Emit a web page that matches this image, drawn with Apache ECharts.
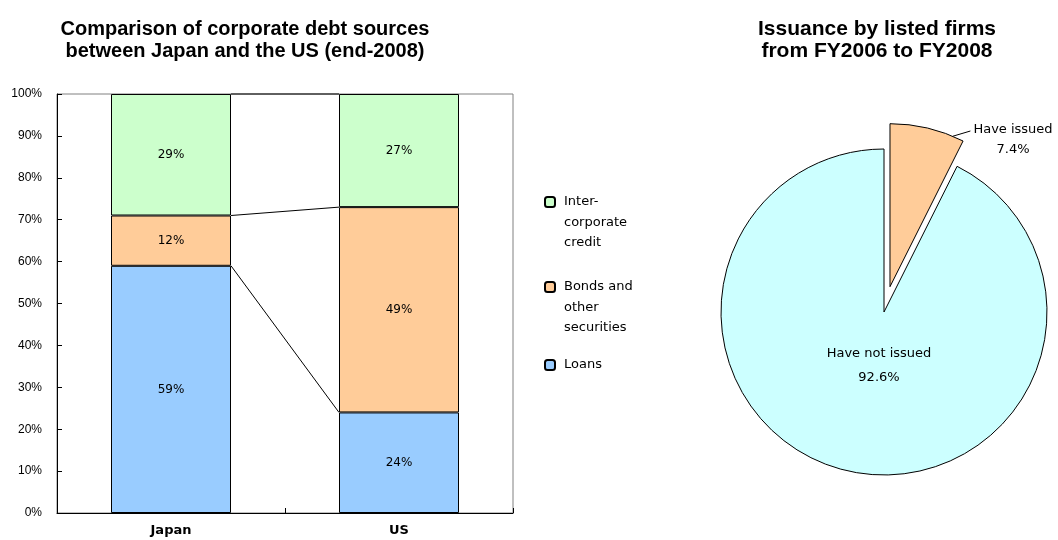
<!DOCTYPE html>
<html>
<head>
<meta charset="utf-8">
<script src="https://cdn.jsdelivr.net/npm/echarts@6/dist/echarts.min.js"></script>
<style>
  html, body { margin: 0; padding: 0; background: #fff; }
  #chart { width: 1058px; height: 540px; }
</style>
</head>
<body>
<div id="chart"></div>
<script>
// Corporate debt sources, share of total (%)
const categories = ['Japan', 'US'];
const loans = [59, 24];
const bonds = [12, 49];
const interCorporate = [29, 27];

const seriesNames = ['Loans', 'Bonds and other securities', 'Inter-corporate credit'];
const legendLines = {
  'Inter-corporate credit': ['Inter-', 'corporate', 'credit'],
  'Bonds and other securities': ['Bonds and', 'other', 'securities'],
  'Loans': ['Loans']
};

// Bond issuance by listed firms (% of firms)
const pieNames = ['Have issued', 'Have not issued'];
const pieValues = [7.4, 92.6];

const BAR_W = 120;
const LEGEND_LH = 20.5;
const colors = { loans: '#99CCFF', bonds: '#FFCC99', inter: '#CCFFCC' };
const LABEL_FONT = 'DejaVu Sans';

// Pie geometry
const PIE_C = [884, 312];
const PIE_R = 163;
const EXPLODE = 26;
// Where the two pie labels are centred
const pieLabelCentres = [[1013, 140], [879, 366]];

// Cumulative tops of each stack level, used for the connecting series lines
const stacks = [loans, bonds, interCorporate];
const levelTops = [];
let run = categories.map(() => 0);
stacks.forEach(arr => {
  run = run.map((v, i) => v + arr[i]);
  levelTops.push([0, run[0], run[1]]);
});

// Exploded slice: angular span (clockwise from 12 o'clock) and its shift
const pieTotal = pieValues.reduce((s, v) => s + v, 0);
const sliceSpan = 2 * Math.PI * pieValues[0] / pieTotal;
const explodeShift = [EXPLODE * Math.sin(sliceSpan / 2), -EXPLODE * Math.cos(sliceSpan / 2)];

function barSeries(name, data, color) {
  return {
    name: name,
    type: 'bar',
    stack: 'debt',
    barWidth: BAR_W,
    data: data,
    itemStyle: { color: color, borderColor: '#000', borderWidth: 1 },
    label: {
      show: true,
      position: 'inside',
      formatter: '{c}%',
      color: '#000',
      fontFamily: LABEL_FONT,
      fontSize: 12
    },
    emphasis: { disabled: true }
  };
}

function legendFor(name, iconCenterY) {
  const lines = legendLines[name];
  const blockH = (2 * lines.length - 1) * LEGEND_LH;
  return {
    data: [name],
    orient: 'vertical',
    left: 544,
    top: iconCenterY - blockH / 2,
    padding: 0,
    itemWidth: 10,
    itemHeight: 10,
    selectedMode: false,
    formatter: n => {
      const l = legendLines[n];
      return new Array(l.length - 1).fill('').concat(l).join('\n');
    },
    textStyle: {
      color: '#000',
      fontFamily: LABEL_FONT,
      fontSize: 13,
      lineHeight: LEGEND_LH,
      padding: [0, 0, 0, 4]
    }
  };
}

const titleStyle = size => ({
  fontFamily: 'Liberation Sans', fontWeight: 'bold', fontSize: size, lineHeight: 22, color: '#000'
});

const chart = echarts.init(document.getElementById('chart'), null, { renderer: 'canvas' });

chart.setOption({
  animation: false,
  backgroundColor: '#fff',
  title: [
    {
      text: 'Comparison of corporate debt sources\nbetween Japan and the US (end-2008)',
      left: 245,
      top: 18,
      padding: 0,
      textAlign: 'center',
      textStyle: titleStyle(20)
    },
    {
      text: 'Issuance by listed firms\nfrom FY2006 to FY2008',
      left: 877,
      top: 18,
      padding: 0,
      textAlign: 'center',
      textStyle: titleStyle(21)
    }
  ],
  legend: [
    legendFor('Inter-corporate credit', 202),
    legendFor('Bonds and other securities', 287),
    legendFor('Loans', 365)
  ],
  grid: {
    left: 57,
    right: 545,
    top: 94,
    bottom: 27,
    show: true,
    borderColor: '#808080',
    borderWidth: 1,
    backgroundColor: 'transparent'
  },
  xAxis: {
    type: 'category',
    data: categories,
    axisLine: { lineStyle: { color: '#000', width: 1 } },
    axisTick: { show: true, inside: true, length: 5, interval: 0, lineStyle: { color: '#000' } },
    axisLabel: {
      color: '#000',
      fontFamily: LABEL_FONT,
      fontWeight: 'bold',
      fontSize: 13,
      margin: 11
    },
    splitLine: { show: false }
  },
  yAxis: {
    type: 'value',
    min: 0,
    max: 100,
    interval: 10,
    axisLine: { show: true, lineStyle: { color: '#000', width: 1 } },
    axisTick: { show: true, inside: true, length: 5, lineStyle: { color: '#000' } },
    axisLabel: {
      formatter: '{value}%',
      color: '#000',
      fontFamily: 'Liberation Sans',
      fontSize: 12,
      margin: 15
    },
    splitLine: { show: false }
  },
  series: [
    barSeries(seriesNames[0], loans, colors.loans),
    barSeries(seriesNames[1], bonds, colors.bonds),
    barSeries(seriesNames[2], interCorporate, colors.inter),
    {
      // series lines joining the top of each stack level between the two bars
      type: 'custom',
      name: 'series lines',
      data: levelTops,
      z: 5,
      silent: true,
      renderItem: function (params, api) {
        const a = api.coord([0, api.value(1)]);
        const b = api.coord([1, api.value(2)]);
        return {
          type: 'line',
          shape: { x1: a[0] + BAR_W / 2, y1: a[1], x2: b[0] - BAR_W / 2, y2: b[1] },
          style: { stroke: '#000', lineWidth: 1 }
        };
      }
    },
    {
      type: 'pie',
      center: PIE_C,
      radius: PIE_R,
      startAngle: 90,
      clockwise: true,
      selectedMode: 'single',
      selectedOffset: EXPLODE,
      avoidLabelOverlap: false,
      itemStyle: { borderColor: '#000', borderWidth: 1 },
      emphasis: { disabled: true },
      label: {
        color: '#000',
        fontFamily: LABEL_FONT,
        fontSize: 13,
        lineHeight: 20,
        align: 'center',
        formatter: p => p.name + '\n' + p.value + '%'
      },
      labelLine: { show: true, length: 10, length2: 8, lineStyle: { color: '#000', width: 1 } },
      labelLayout: function (params) {
        const r = params.labelRect;
        const c = pieLabelCentres[params.dataIndex];
        if (params.dataIndex === 0) {
          // the label rides along with the exploded slice, so take that shift back out;
          // its anchor is the left edge, which becomes the centre once re-aligned
          const dx = c[0] - r.x - explodeShift[0];
          const dy = c[1] - (r.y + r.height / 2) - explodeShift[1];
          // leader from near the slice's outer right corner to the label's upper-left
          const a = sliceSpan * 0.85;
          const start = [
            PIE_C[0] + PIE_R * Math.sin(a),
            PIE_C[1] - PIE_R * Math.cos(a)
          ];
          const end = [c[0] - r.width / 2 - 3 - explodeShift[0], c[1] - 9 - explodeShift[1]];
          return {
            dx: dx,
            dy: dy,
            align: 'center',
            labelLinePoints: [start, end, end]
          };
        }
        return {
          dx: c[0] - (r.x + r.width / 2),
          dy: c[1] - (r.y + r.height / 2)
        };
      },
      data: [
        {
          name: pieNames[0],
          value: pieValues[0],
          selected: true,
          itemStyle: { color: '#FFCC99' },
          select: { itemStyle: { color: '#FFCC99', borderColor: '#000', borderWidth: 1 } },
          label: { position: 'outside' }
        },
        {
          name: pieNames[1],
          value: pieValues[1],
          itemStyle: { color: '#CCFFFF' },
          label: { position: 'inside', lineHeight: 24 },
          labelLine: { show: false }
        }
      ]
    }
  ]
});
</script>
</body>
</html>
